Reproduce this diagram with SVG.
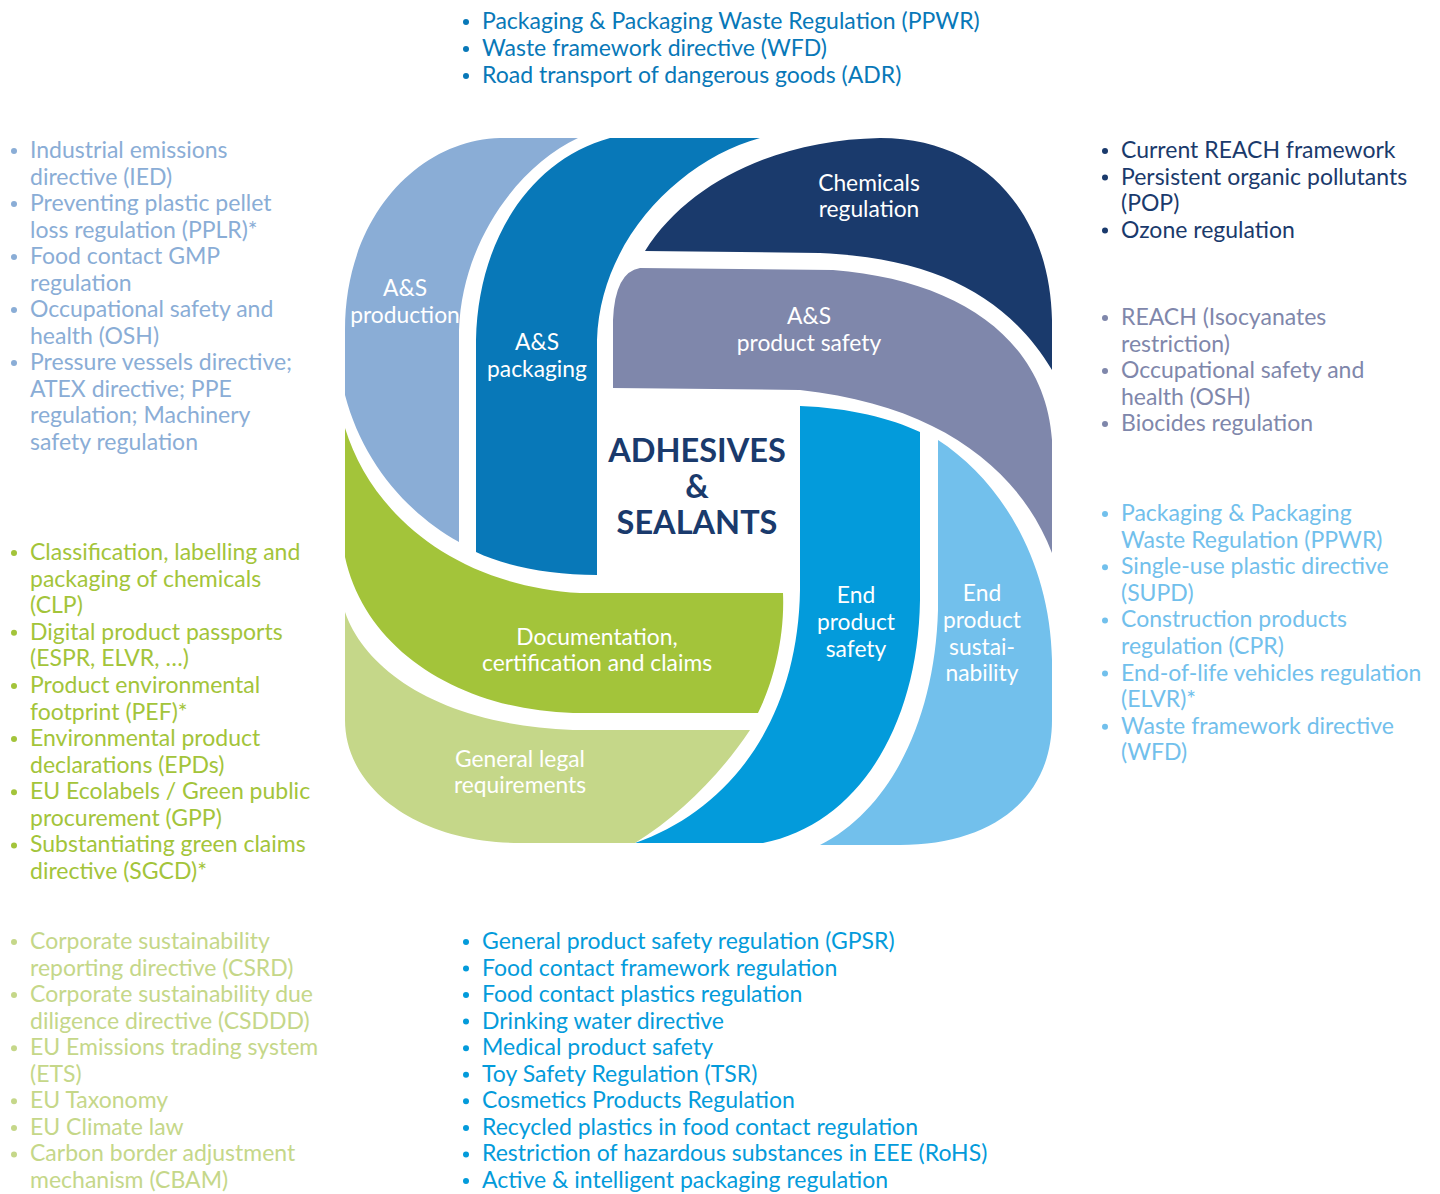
<svg xmlns="http://www.w3.org/2000/svg" width="1440" height="1194" viewBox="0 0 1440 1194">
<style>
text{font-family:Lato,"Liberation Sans",sans-serif;}
.lbl{font-size:22.8px;fill:#ffffff;text-anchor:middle;}
.lst{font-size:23px;}
.title{font-size:32.5px;font-weight:bold;fill:#1a3a6c;text-anchor:middle;}
.c-pkg{fill:#0878b8;}
.c-prod{fill:#8aadd6;}
.c-chem{fill:#1a3a6c;}
.c-safe{fill:#7f87ab;}
.c-doc{fill:#a3c43a;}
.c-gen{fill:#c5d789;}
.c-eps{fill:#039bdb;}
.c-sus{fill:#72c0ec;}
</style>
<rect width="1440" height="1194" fill="#ffffff"/>

<g id="node-production">
<path class="c-prod" d="M345,330 C345,215 420,140 500,138 L578,138 C520,165 462,240 459,330 L459,542 C405,512 362,460 345,395 Z"/>
<text class="lbl"><tspan x="405" y="296">A&amp;S</tspan><tspan x="405" y="323">production</tspan></text>
</g>
<g id="node-packaging">
<path class="c-pkg" d="M476,552 L476,340 C478,240 530,160 610,138 L760,138 C680,160 600,240 597,340 L597,575 C550,575 505,566 476,552 Z"/>
<text class="lbl"><tspan x="537" y="350">A&amp;S</tspan><tspan x="537" y="377">packaging</tspan></text>
</g>
<g id="node-chemicals">
<path class="c-chem" d="M645,251 C690,180 780,140 880,138 C990,138 1050,220 1052,320 L1052,370 C1010,300 940,258 820,253 L645,251 Z"/>
<text class="lbl"><tspan x="869" y="191">Chemicals</tspan><tspan x="869" y="217">regulation</tspan></text>
</g>
<g id="node-product-safety">
<path class="c-safe" d="M613,388 L613,320 Q615,272 640,268 L833,270 C960,280 1045,340 1052,440 L1052,553 C1020,470 940,405 800,390 Z"/>
<text class="lbl"><tspan x="809" y="324">A&amp;S</tspan><tspan x="809" y="351">product safety</tspan></text>
</g>
<g id="node-end-product-safety">
<path class="c-eps" d="M800,406 C850,408 890,418 920,432 L920,600 C918,730 855,825 763,843 L635,843 C730,810 798,720 800,590 Z"/>
<text class="lbl"><tspan x="856" y="603">End</tspan><tspan x="856" y="630">product</tspan><tspan x="856" y="657">safety</tspan></text>
</g>
<g id="node-end-product-sustainability">
<path class="c-sus" d="M938,440 C1000,480 1050,560 1052,660 L1052,720 C1052,800 990,845 900,845 L820,845 C890,810 935,720 938,610 Z"/>
<text class="lbl"><tspan x="982" y="601">End</tspan><tspan x="982" y="628">product</tspan><tspan x="982" y="655">sustai-</tspan><tspan x="982" y="681">nability</tspan></text>
</g>
<g id="node-documentation">
<path class="c-doc" d="M345,428 C370,510 450,585 580,593 L783,593 C785,640 772,685 758,713 L573,713 C460,710 365,650 345,557 Z"/>
<text class="lbl"><tspan x="597" y="645">Documentation,</tspan><tspan x="597" y="671">certification and claims</tspan></text>
</g>
<g id="node-general-legal">
<path class="c-gen" d="M345,612 C365,670 440,725 573,730 L750,730 C720,775 680,815 635,843 L520,843 C420,843 345,790 345,720 Z"/>
<text class="lbl"><tspan x="520" y="767">General legal</tspan><tspan x="520" y="793">requirements</tspan></text>
</g>
<g id="node-center">
<text class="title"><tspan x="697" y="462">ADHESIVES</tspan><tspan x="697" y="498">&amp;</tspan><tspan x="697" y="534">SEALANTS</tspan></text>
</g>
<g id="connectors"/>

<g id="list-packaging" class="c-pkg">
<circle cx="466" cy="22" r="3"/><circle cx="466" cy="49" r="3"/><circle cx="466" cy="76" r="3"/>
<text class="lst c-pkg"><tspan x="482" y="29">Packaging &amp; Packaging Waste Regulation (PPWR)</tspan><tspan x="482" y="56">Waste framework directive (WFD)</tspan><tspan x="482" y="83">Road transport of dangerous goods (ADR)</tspan></text>
</g>

<g id="list-production" class="c-prod">
<circle cx="14" cy="151" r="3"/><circle cx="14" cy="204" r="3"/><circle cx="14" cy="257" r="3"/><circle cx="14" cy="310" r="3"/><circle cx="14" cy="363" r="3"/>
<text class="lst c-prod"><tspan x="30" y="158">Industrial emissions</tspan><tspan x="30" y="184.5">directive (IED)</tspan><tspan x="30" y="211">Preventing plastic pellet</tspan><tspan x="30" y="237.5">loss regulation (PPLR)*</tspan><tspan x="30" y="264">Food contact GMP</tspan><tspan x="30" y="290.5">regulation</tspan><tspan x="30" y="317">Occupational safety and</tspan><tspan x="30" y="343.5">health (OSH)</tspan><tspan x="30" y="370">Pressure vessels directive;</tspan><tspan x="30" y="396.5">ATEX directive; PPE</tspan><tspan x="30" y="423">regulation; Machinery</tspan><tspan x="30" y="449.5">safety regulation</tspan></text>
</g>

<g id="list-chemicals" class="c-chem">
<circle cx="1105" cy="151" r="3"/><circle cx="1105" cy="177.5" r="3"/><circle cx="1105" cy="230.5" r="3"/>
<text class="lst c-chem"><tspan x="1121" y="158">Current REACH framework</tspan><tspan x="1121" y="184.5">Persistent organic pollutants</tspan><tspan x="1121" y="211">(POP)</tspan><tspan x="1121" y="237.5">Ozone regulation</tspan></text>
</g>

<g id="list-product-safety" class="c-safe">
<circle cx="1105" cy="318" r="3"/><circle cx="1105" cy="371" r="3"/><circle cx="1105" cy="424" r="3"/>
<text class="lst c-safe"><tspan x="1121" y="325">REACH (Isocyanates</tspan><tspan x="1121" y="351.5">restriction)</tspan><tspan x="1121" y="378">Occupational safety and</tspan><tspan x="1121" y="404.5">health (OSH)</tspan><tspan x="1121" y="431">Biocides regulation</tspan></text>
</g>

<g id="list-documentation" class="c-doc">
<circle cx="14" cy="553" r="3"/><circle cx="14" cy="632.7" r="3"/><circle cx="14" cy="685.9" r="3"/><circle cx="14" cy="739" r="3"/><circle cx="14" cy="792.2" r="3"/><circle cx="14" cy="845.4" r="3"/>
<text class="lst c-doc"><tspan x="30" y="560">Classification, labelling and</tspan><tspan x="30" y="586.6">packaging of chemicals</tspan><tspan x="30" y="613.2">(CLP)</tspan><tspan x="30" y="639.7">Digital product passports</tspan><tspan x="30" y="666.3">(ESPR, ELVR, …)</tspan><tspan x="30" y="692.9">Product environmental</tspan><tspan x="30" y="719.5">footprint (PEF)*</tspan><tspan x="30" y="746">Environmental product</tspan><tspan x="30" y="772.6">declarations (EPDs)</tspan><tspan x="30" y="799.2">EU Ecolabels / Green public</tspan><tspan x="30" y="825.8">procurement (GPP)</tspan><tspan x="30" y="852.4">Substantiating green claims</tspan><tspan x="30" y="879">directive (SGCD)*</tspan></text>
</g>

<g id="list-sustainability" class="c-sus">
<circle cx="1105" cy="514" r="3"/><circle cx="1105" cy="567.2" r="3"/><circle cx="1105" cy="620.4" r="3"/><circle cx="1105" cy="673.6" r="3"/><circle cx="1105" cy="726.8" r="3"/>
<text class="lst c-sus"><tspan x="1121" y="521">Packaging &amp; Packaging</tspan><tspan x="1121" y="547.6">Waste Regulation (PPWR)</tspan><tspan x="1121" y="574.2">Single-use plastic directive</tspan><tspan x="1121" y="600.8">(SUPD)</tspan><tspan x="1121" y="627.4">Construction products</tspan><tspan x="1121" y="654">regulation (CPR)</tspan><tspan x="1121" y="680.6">End-of-life vehicles regulation</tspan><tspan x="1121" y="707.2">(ELVR)*</tspan><tspan x="1121" y="733.8">Waste framework directive</tspan><tspan x="1121" y="760.4">(WFD)</tspan></text>
</g>

<g id="list-general-legal" class="c-gen">
<circle cx="14" cy="942" r="3"/><circle cx="14" cy="995.1" r="3"/><circle cx="14" cy="1048.2" r="3"/><circle cx="14" cy="1101.3" r="3"/><circle cx="14" cy="1127.9" r="3"/><circle cx="14" cy="1154.4" r="3"/>
<text class="lst c-gen"><tspan x="30" y="949">Corporate sustainability</tspan><tspan x="30" y="975.5">reporting directive (CSRD)</tspan><tspan x="30" y="1002.1">Corporate sustainability due</tspan><tspan x="30" y="1028.6">diligence directive (CSDDD)</tspan><tspan x="30" y="1055.2">EU Emissions trading system</tspan><tspan x="30" y="1081.7">(ETS)</tspan><tspan x="30" y="1108.3">EU Taxonomy</tspan><tspan x="30" y="1134.9">EU Climate law</tspan><tspan x="30" y="1161.4">Carbon border adjustment</tspan><tspan x="30" y="1188">mechanism (CBAM)</tspan></text>
</g>

<g id="list-end-product-safety" class="c-eps">
<circle cx="466" cy="942" r="3"/><circle cx="466" cy="968.5" r="3"/><circle cx="466" cy="995.1" r="3"/><circle cx="466" cy="1021.6" r="3"/><circle cx="466" cy="1048.2" r="3"/><circle cx="466" cy="1074.7" r="3"/><circle cx="466" cy="1101.3" r="3"/><circle cx="466" cy="1127.9" r="3"/><circle cx="466" cy="1154.4" r="3"/><circle cx="466" cy="1181" r="3"/>
<text class="lst c-eps"><tspan x="482" y="949">General product safety regulation (GPSR)</tspan><tspan x="482" y="975.5">Food contact framework regulation</tspan><tspan x="482" y="1002.1">Food contact plastics regulation</tspan><tspan x="482" y="1028.6">Drinking water directive</tspan><tspan x="482" y="1055.2">Medical product safety</tspan><tspan x="482" y="1081.7">Toy Safety Regulation (TSR)</tspan><tspan x="482" y="1108.3">Cosmetics Products Regulation</tspan><tspan x="482" y="1134.9">Recycled plastics in food contact regulation</tspan><tspan x="482" y="1161.4">Restriction of hazardous substances in EEE (RoHS)</tspan><tspan x="482" y="1188">Active &amp; intelligent packaging regulation</tspan></text>
</g>
</svg>
